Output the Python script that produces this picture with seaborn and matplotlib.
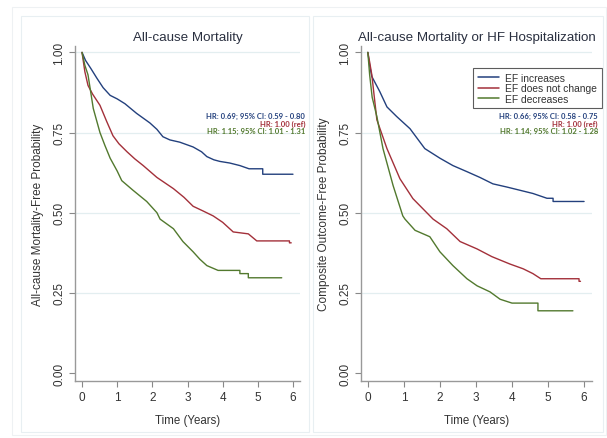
import numpy as np
import pandas as pd
import matplotlib
matplotlib.use("Agg")
import matplotlib.pyplot as plt
import seaborn as sns
from matplotlib.patches import Rectangle

sns.set_theme(style="white")
plt.rcParams['font.family'] = ['Liberation Sans', 'DejaVu Sans']

groups = ["EF increases", "EF does not change", "EF decreases"]
colors = ["#23407d", "#a3303a", "#52792e"]

# Panel 1: All-cause mortality
m_inc_t = [0, 0.1, 0.25, 0.42, 0.6, 0.8, 1.0, 1.22, 1.55, 1.93, 2.13, 2.3, 2.5, 2.78, 3.16, 3.4, 3.55, 3.75, 3.92, 4.2, 4.49, 4.75, 5.14, 5.14, 6.0]
m_inc_s = [1.0, 0.975, 0.95, 0.92, 0.89, 0.866, 0.855, 0.84, 0.81, 0.78, 0.76, 0.737, 0.727, 0.72, 0.705, 0.69, 0.675, 0.665, 0.66, 0.655, 0.647, 0.637, 0.637, 0.62, 0.62]
m_same_t = [0, 0.08, 0.17, 0.3, 0.51, 0.7, 0.88, 1.05, 1.28, 1.5, 1.74, 2.13, 2.6, 2.9, 3.16, 3.45, 3.73, 4.0, 4.3, 4.73, 4.97, 5.9, 5.9, 5.95]
m_same_s = [1.0, 0.94, 0.897, 0.87, 0.835, 0.785, 0.74, 0.715, 0.69, 0.668, 0.647, 0.61, 0.575, 0.548, 0.52, 0.505, 0.49, 0.47, 0.44, 0.434, 0.412, 0.412, 0.406, 0.406]
m_dec_t = [0, 0.08, 0.17, 0.32, 0.51, 0.65, 0.8, 1.0, 1.13, 1.45, 1.84, 2.13, 2.22, 2.6, 2.87, 3.16, 3.35, 3.55, 3.87, 4.49, 4.49, 4.73, 4.73, 5.68]
m_dec_s = [1.0, 0.96, 0.93, 0.825, 0.75, 0.71, 0.67, 0.63, 0.6, 0.57, 0.535, 0.5, 0.48, 0.45, 0.41, 0.378, 0.355, 0.335, 0.32, 0.32, 0.31, 0.31, 0.297, 0.297]

# Panel 2: All-cause mortality or HF hospitalization
c_inc_t = [0, 0.05, 0.11, 0.33, 0.53, 0.8, 1.17, 1.58, 2.0, 2.36, 2.75, 3.11, 3.47, 3.86, 4.22, 4.58, 4.97, 5.14, 5.14, 6.0]
c_inc_s = [1.0, 0.96, 0.925, 0.878, 0.83, 0.80, 0.762, 0.70, 0.67, 0.647, 0.628, 0.61, 0.59, 0.58, 0.57, 0.56, 0.545, 0.545, 0.535, 0.535]
c_same_t = [0, 0.05, 0.11, 0.25, 0.53, 0.89, 1.25, 1.81, 2.19, 2.56, 3.03, 3.44, 3.94, 4.31, 4.58, 4.8, 5.86, 5.86, 5.9]
c_same_s = [1.0, 0.97, 0.93, 0.79, 0.70, 0.606, 0.544, 0.48, 0.45, 0.41, 0.387, 0.363, 0.34, 0.325, 0.31, 0.294, 0.294, 0.286, 0.286]
c_dec_t = [0, 0.05, 0.12, 0.25, 0.42, 0.7, 0.97, 1.03, 1.31, 1.72, 2.0, 2.36, 2.75, 3.03, 3.39, 3.67, 4.0, 4.72, 4.72, 5.69]
c_dec_s = [1.0, 0.93, 0.86, 0.80, 0.70, 0.585, 0.49, 0.48, 0.445, 0.425, 0.378, 0.335, 0.294, 0.272, 0.253, 0.23, 0.218, 0.218, 0.194, 0.194]

titles = ["All-cause Mortality", "All-cause Mortality or HF Hospitalization"]
ylabels = ["All-cause Mortality-Free Probability", "Composite Outcome-Free Probability"]
hr_text = [["HR: 0.69; 95% CI: 0.59 - 0.80", "HR: 1.00 (ref)", "HR: 1.15; 95% CI: 1.01 - 1.31"],
           ["HR: 0.66; 95% CI: 0.58 - 0.75", "HR: 1.00 (ref)", "HR: 1.14; 95% CI: 1.02 - 1.28"]]
yticks = [0.0, 0.25, 0.5, 0.75, 1.0]
xticks = [0, 1, 2, 3, 4, 5, 6]

def make_df(series):
    rows = []
    for g, (t, s) in zip(groups, series):
        for ti, si in zip(t, s):
            rows.append({"time": ti, "surv": si, "group": g})
    return pd.DataFrame(rows)

dfs = [make_df([(m_inc_t, m_inc_s), (m_same_t, m_same_s), (m_dec_t, m_dec_s)]),
       make_df([(c_inc_t, c_inc_s), (c_same_t, c_same_s), (c_dec_t, c_dec_s)])]

W, H = 607, 439
fig = plt.figure(figsize=(W / 100, H / 100), dpi=100)
fig.patch.set_facecolor("white")

# panel frames
fig.patches.append(Rectangle((12 / W, 1 - 436 / H), 594 / W, 428 / H, transform=fig.transFigure,
                             fill=False, edgecolor="#eef1f3", lw=0.8))
fig.patches.append(Rectangle((21 / W, 1 - 433 / H), 288 / W, 416 / H, transform=fig.transFigure,
                             fill=False, edgecolor="#e8eff2", lw=0.8))
fig.patches.append(Rectangle((313 / W, 1 - 433 / H), 290 / W, 416 / H, transform=fig.transFigure,
                             fill=False, edgecolor="#e8eff2", lw=0.8))

axes_px = [(75, 300, 47, 382, -0.2, 6.2), (361, 592, 47, 382, -0.19, 6.22)]
hr_x = [305, 598]

for i, (x0, x1, y0, y1, xl, xr) in enumerate(axes_px):
    ax = fig.add_axes([x0 / W, 1 - y1 / H, (x1 - x0) / W, (y1 - y0) / H])
    ax.set_facecolor("white")
    for yv in [0.25, 0.5, 0.75, 1.0]:
        ax.axhline(yv, color="#e3eef0", lw=0.9, zorder=0)
    sns.lineplot(data=dfs[i], x="time", y="surv", hue="group", hue_order=groups,
                 palette=colors, lw=1.0, ax=ax,
                 legend=(i == 1), estimator=None, sort=False)
    ax.set_xlim(xl, xr)
    ax.set_ylim(-0.025, 1.02)
    ax.set_xticks(xticks)
    ax.set_xticklabels([str(x) for x in xticks], fontsize=8.5, color="#333333")
    ax.set_yticks(yticks)
    ax.set_yticklabels([f"{y:.2f}" for y in yticks], fontsize=8.5, rotation=90,
                       va="center", color="#333333")
    ax.tick_params(axis="both", direction="out", length=4, width=0.8, color="#888888",
                   left=True, bottom=True, pad=3)
    for side in ["top", "right"]:
        ax.spines[side].set_visible(False)
    for side in ["left", "bottom"]:
        ax.spines[side].set_color("#999999")
        ax.spines[side].set_linewidth(1.0)
    ax.set_xlabel("Time (Years)", fontsize=8.3, color="#333333", labelpad=8)
    ax.set_ylabel(ylabels[i], fontsize=8.5, color="#333333", labelpad=7)
    fig.text((x0 + x1) / 2 / W, 1 - 38 / H, titles[i], ha="center", va="center",
             fontsize=9.6, color="#2a3040")
    for k, (txt, c) in enumerate(zip(hr_text[i], colors)):
        fig.text(hr_x[i] / W, 1 - (116.5 + 7.7 * k) / H, txt, ha="right", va="center",
                 fontsize=5.5, fontweight="bold", color=c, family=["Lato", "DejaVu Sans"])
    if i == 1:
        leg = ax.legend(loc="upper left", bbox_to_anchor=((473 - x0) / (x1 - x0), (382 - 69) / (y1 - y0)),
                        borderaxespad=0, fontsize=7.4, frameon=True, fancybox=False,
                        edgecolor="#333333", handlelength=2.1, handletextpad=0.6,
                        borderpad=0.45, labelspacing=0.05, title=None)
        leg.get_frame().set_linewidth(0.8)
        for t in leg.get_texts():
            t.set_color("#333333")
        for l in leg.get_lines():
            l.set_linewidth(1.1)

fig.savefig("out.png", dpi=100)
